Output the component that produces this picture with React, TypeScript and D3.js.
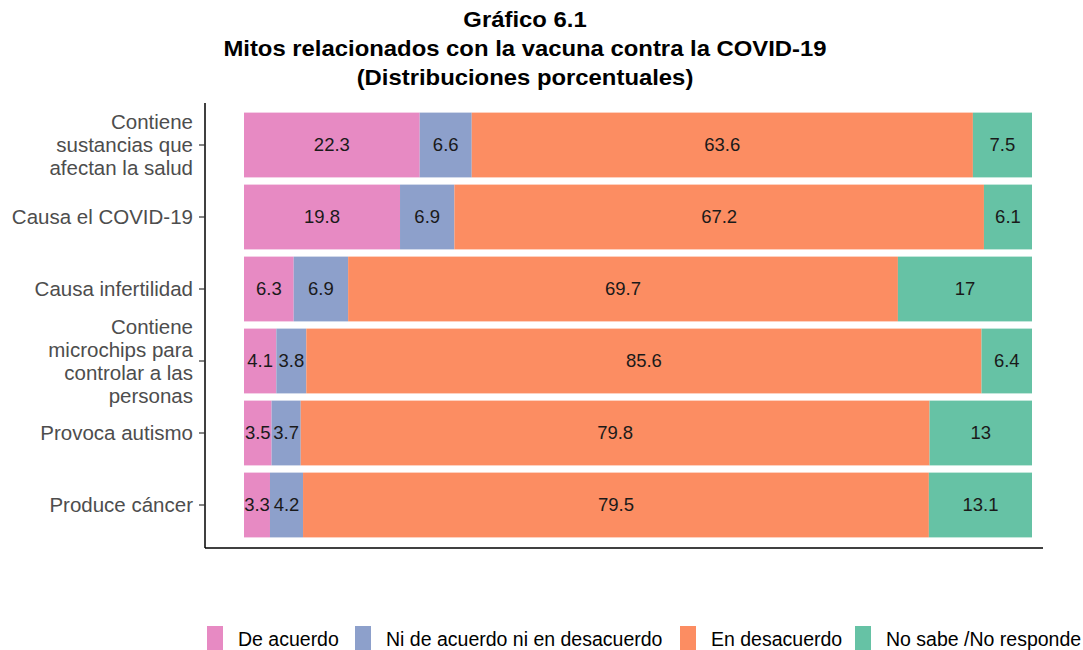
import React from "react";
import * as d3 from "d3";

const categories = [
  ["Contiene", "sustancias que", "afectan la salud"],
  ["Causa el COVID-19"],
  ["Causa infertilidad"],
  ["Contiene", "microchips para", "controlar a las", "personas"],
  ["Provoca autismo"],
  ["Produce cáncer"],
];
const seriesNames = ["De acuerdo", "Ni de acuerdo ni en desacuerdo", "En desacuerdo", "No sabe /No responde"];
const deAcuerdo = [22.3, 19.8, 6.3, 4.1, 3.5, 3.3];
const niNi = [6.6, 6.9, 6.9, 3.8, 3.7, 4.2];
const enDesacuerdo = [63.6, 67.2, 69.7, 85.6, 79.8, 79.5];
const noSabe = [7.5, 6.1, 17, 6.4, 13, 13.1];
const colors = ["#E78AC3", "#8DA0CB", "#FC8D62", "#66C2A5"];
const titleLines = ["Gráfico 6.1", "Mitos relacionados con la vacuna contra la COVID-19", "(Distribuciones porcentuales)"];

export default function App() {
  const W = 1083, H = 650;
  const series = [deAcuerdo, niNi, enDesacuerdo, noSabe];
  const idx = categories.map((_, i) => i);
  const y = d3.scaleBand<number>().domain(idx).range([109, 541]).paddingInner(0.1).paddingOuter(0.05);
  const x = d3.scaleLinear().domain([0, 1]).range([244, 1032]);
  const rows = idx.map((i) => {
    const vals = series.map((s) => s[i]);
    const total = d3.sum(vals);
    let cum = 0;
    return vals.map((v, k) => {
      const seg = { x0: cum / total, x1: (cum + v) / total, v, k };
      cum += v;
      return seg;
    });
  });
  const legendX = [207, 355, 680, 855];
  const font = "'Liberation Sans', Arial, sans-serif";
  return (
    <div style={{ position: "absolute", left: 0, top: 0 }}>
      <svg width={W} height={H} style={{ display: "block", background: "#fff" }}>
        {titleLines.map((t, i) => (
          <g key={i} transform={`translate(525,${27 + i * 29}) scale(1.11,1)`}>
            <text x={0} y={0} textAnchor="middle" fontFamily={font} fontWeight="bold" fontSize={21.5} fill="#000">
              {t}
            </text>
          </g>
        ))}
        {rows.map((segs, i) =>
          segs.map((s) => (
            <g key={`${i}-${s.k}`}>
              <rect x={x(s.x0)} y={y(i)!} width={x(s.x1) - x(s.x0)} height={y.bandwidth()} fill={colors[s.k]} />
              <text x={(x(s.x0) + x(s.x1)) / 2} y={y(i)! + y.bandwidth() / 2} dy="0.35em" textAnchor="middle" fontFamily={font} fontSize={18.5} fill="#1a1a1a">
                {s.v}
              </text>
            </g>
          ))
        )}
        <line x1={205} x2={205} y1={103} y2={548} stroke="#000" strokeWidth={1.5} />
        <line x1={205} x2={1043} y1={548} y2={548} stroke="#000" strokeWidth={1.5} />
        {categories.map((lines, i) => {
          const cy = y(i)! + y.bandwidth() / 2;
          const lh = 23;
          const start = cy - ((lines.length - 1) * lh) / 2;
          return (
            <g key={i}>
              <line x1={199} x2={205} y1={cy} y2={cy} stroke="#333" strokeWidth={1.2} />
              {lines.map((l, j) => (
                <text key={j} x={193} y={start + j * lh} dy="0.35em" textAnchor="end" fontFamily={font} fontSize={20.5} fill="#4d4d4d">
                  {l}
                </text>
              ))}
            </g>
          );
        })}
        {seriesNames.map((n, k) => (
          <g key={k}>
            <rect x={legendX[k]} y={626} width={16} height={24} fill={colors[k]} />
            <text x={legendX[k] + 31} y={646} fontFamily={font} fontSize={19.5} fill="#000">
              {n}
            </text>
          </g>
        ))}
      </svg>
    </div>
  );
}
